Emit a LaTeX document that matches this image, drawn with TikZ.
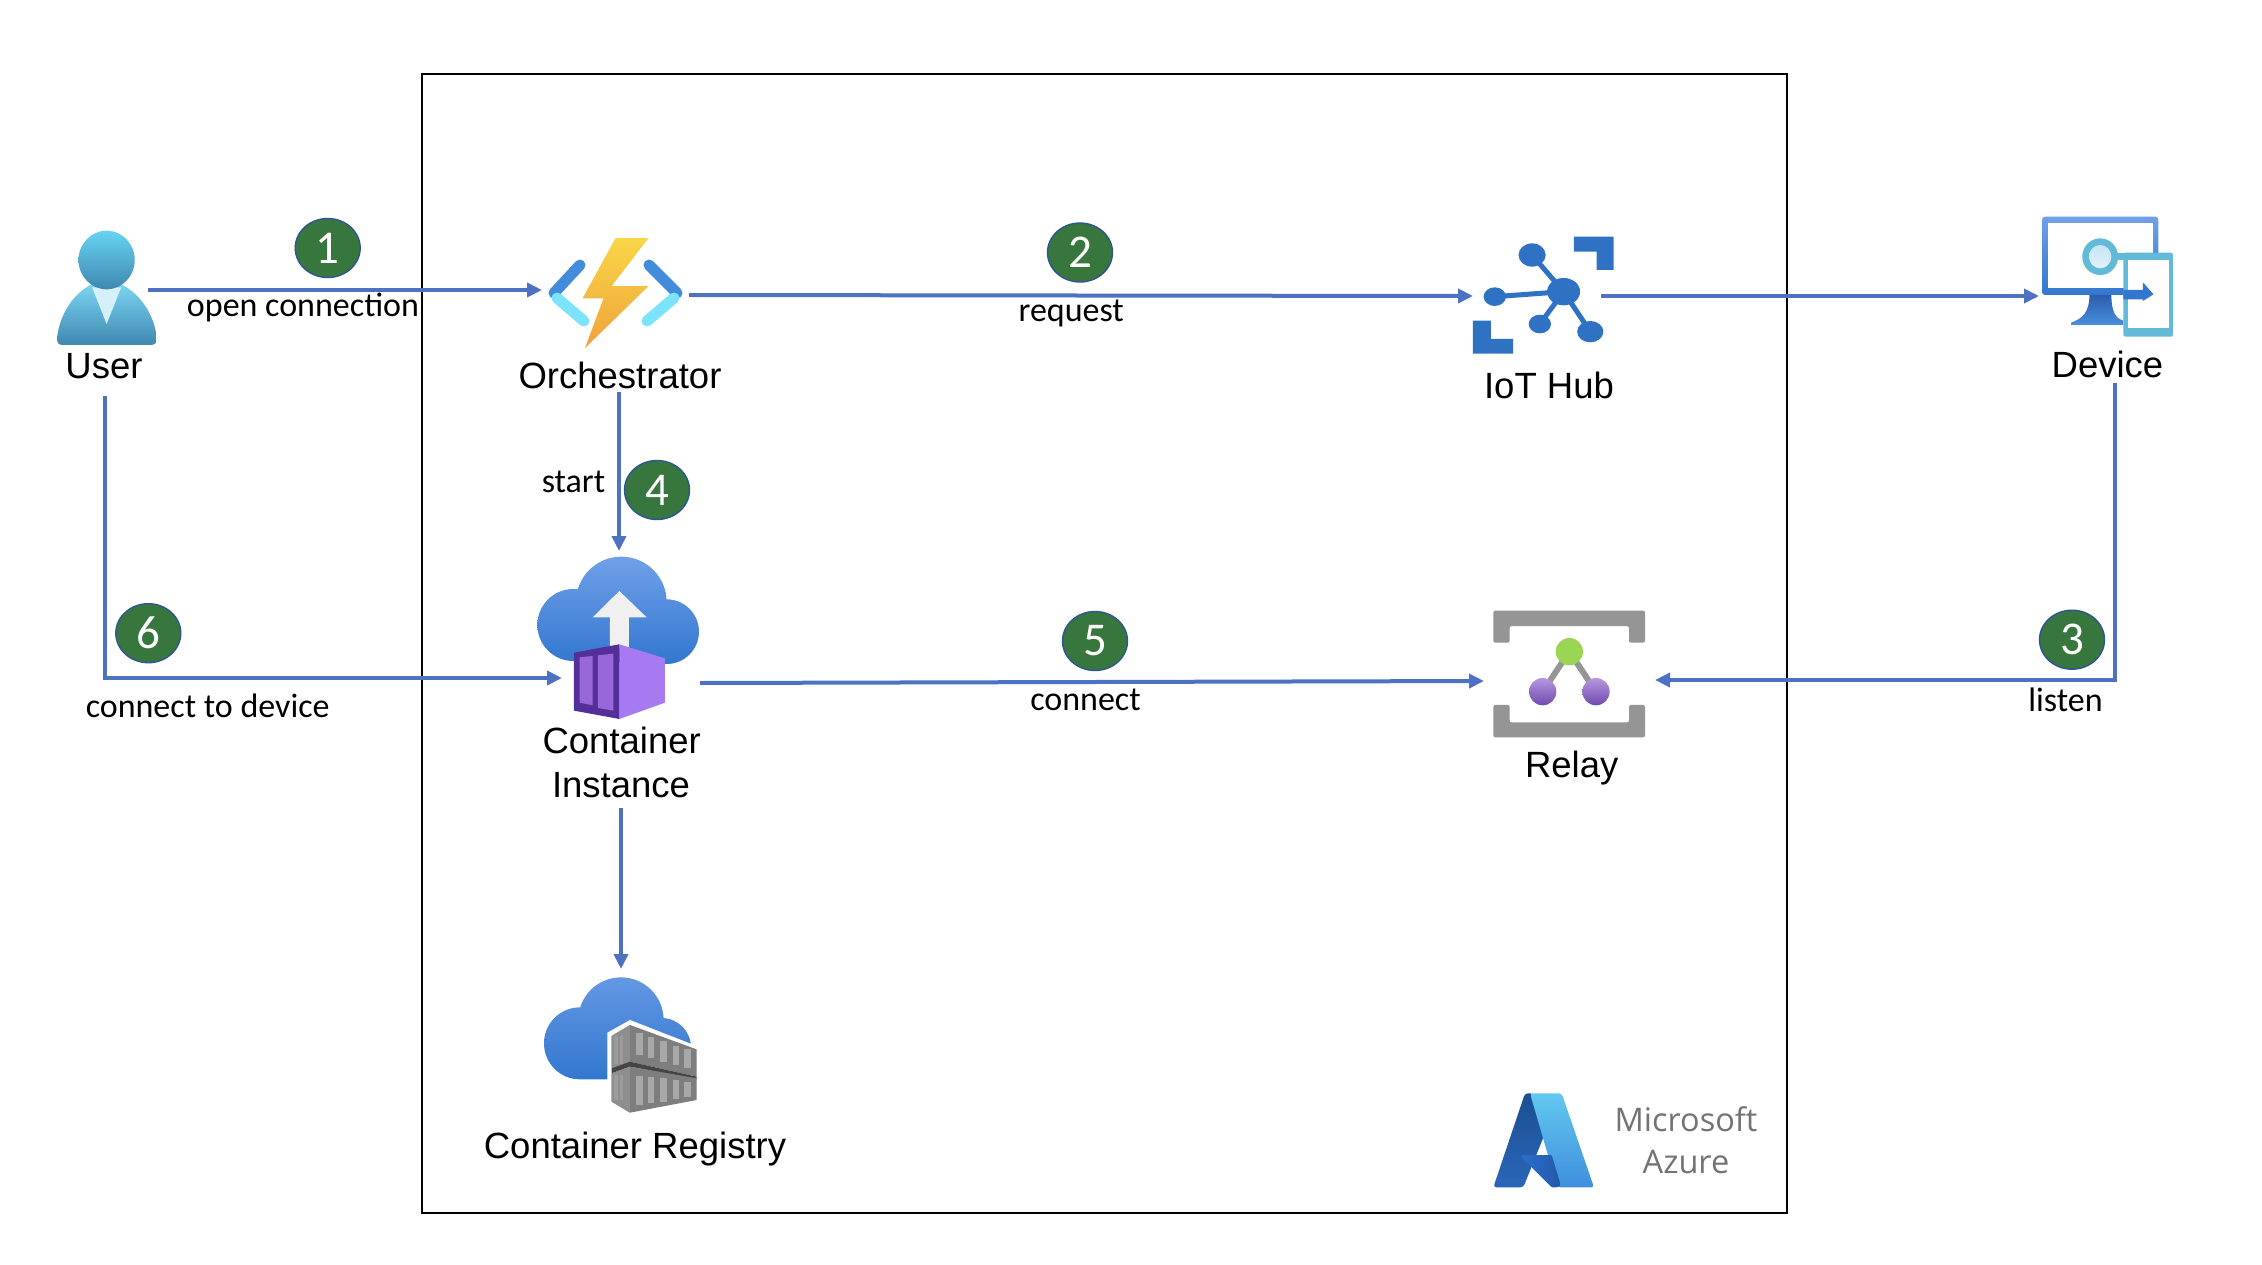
\documentclass[tikz,border=0pt]{standalone}
\usepackage{fontspec}
\setmainfont{Liberation Sans}
\newfontfamily\calfont{Carlito}
\newfontfamily\msfont{Open Sans}
\usetikzlibrary{arrows.meta,shapes.geometric}
\definecolor{flow}{HTML}{4E72C3}
\definecolor{badgefill}{HTML}{37763C}
\definecolor{badgeline}{HTML}{2F5597}
\definecolor{iotblue}{HTML}{2F72C4}
\definecolor{cloudtop}{HTML}{70A0E8}
\definecolor{cloudbot}{HTML}{3277CF}
\definecolor{relaygray}{HTML}{959595}
\definecolor{tabletblue}{HTML}{60BAD8}
\definecolor{bodytop}{HTML}{7BD4F2}
\definecolor{bodybot}{HTML}{3F88B0}
\definecolor{headtop}{HTML}{67D3F2}
\definecolor{collar}{HTML}{D6F0F8}
\definecolor{chevdark}{HTML}{438CDB}
\definecolor{chevlight}{HTML}{7BE3FB}
\definecolor{bolttop}{HTML}{F9D648}
\definecolor{boltbot}{HTML}{F0A23A}
\definecolor{standtop}{HTML}{2A5AA8}
\definecolor{standbot}{HTML}{4A8FE0}
\definecolor{lenstop}{HTML}{C6E4F5}
\definecolor{lensbot}{HTML}{E3F2FA}
\definecolor{arrowgray}{HTML}{F0F0F0}
\definecolor{boxlight}{HTML}{A67AF0}
\definecolor{boxdark}{HTML}{552F99}
\definecolor{boxwin}{HTML}{9868D8}
\definecolor{relaygreen}{HTML}{9AD654}
\definecolor{dottop}{HTML}{B796E0}
\definecolor{dotbot}{HTML}{6E4BAE}
\definecolor{crate}{HTML}{7E7E7E}
\definecolor{crateside}{HTML}{8E8E8E}
\definecolor{cratedark}{HTML}{454545}
\definecolor{cratewin}{HTML}{A8A8A8}
\definecolor{cratewinside}{HTML}{9C9C9C}
\definecolor{azdarktop}{HTML}{1B4F92}
\definecolor{azdarkbot}{HTML}{2A66B8}
\definecolor{azlighttop}{HTML}{63C8F0}
\definecolor{azlightbot}{HTML}{3E8FDC}
\definecolor{azmidl}{HTML}{2A6FD0}
\definecolor{azmidr}{HTML}{2259A6}
\definecolor{msgray}{HTML}{737373}
\tikzset{
  zoomed/.style n args={4}{shift={(#1,#2)},x=#3pt,y=-#4pt},
  flowline/.style={draw=flow,line width=4pt,-{Triangle[length=15pt,width=14pt]}},
  hotspot/.style={draw=none,inner sep=0pt,outer sep=0pt},
  iconlabel/.style={anchor=base,inner sep=0pt,outer sep=0pt,font=\fontsize{36.5}{44}\selectfont,align=center},
  smalllabel/.style={anchor=base,inner sep=0pt,font=\calfont\fontsize{34}{40}\selectfont},
  badge/.style={ellipse,fill=badgefill,draw=badgeline,line width=1.4pt,minimum width=65pt,minimum height=59pt,inner sep=0pt,text=white,font=\calfont\fontsize{47}{47}\selectfont},
}
\begin{document}
\begin{tikzpicture}[x=1pt,y=-1pt]
\useasboundingbox (0,0) rectangle (2262,1264);
\fill[white] (0,0) rectangle (2262,1264);
% Azure frame
\draw[black,line width=2.6pt] (422,74) rectangle (1787,1213);

% ---------- User icon
\begin{scope}[zoomed={0}{180}{.4847}{.3333}]
\shade[top color=bodytop,bottom color=bodybot] (118,470) .. controls (125,390) and (160,330) .. (192,312) -- (248,312) .. controls (285,335) and (318,400) .. (323,470) -- (323,480) .. controls (323,490) and (318,495) .. (310,495) -- (130,495) .. controls (122,495) and (118,490) .. (118,480) -- cycle;
\fill[collar] (190,322) -- (250,322) -- (220,432) -- cycle;
\shade[top color=headtop,bottom color=bodybot] (220,240) ellipse [x radius=58,y radius=88];
\end{scope}

% ---------- Function icon
\begin{scope}
\draw[line width=11pt,color=chevdark,line cap=round] (580,265) -- (554,293);
\draw[line width=11pt,color=chevlight,line cap=round] (557,298) -- (584,321);
\draw[line width=11pt,color=chevdark,line cap=round] (649,265) -- (677,293);
\draw[line width=11pt,color=chevlight,line cap=round] (674,298) -- (647,321);
\shade[top color=bolttop,bottom color=boltbot] (615.6,238) -- (648.6,238) -- (611.7,286) -- (648.6,286) -- (585,348) -- (603.5,298.3) -- (582.6,298.3) -- cycle;
\end{scope}

% ---------- IoT Hub icon
\begin{scope}[zoomed={1440}{200}{.4847}{.3333},iotblue]
\fill (276,110) -- (358,110) -- (358,210) -- (323,210) -- (323,155) -- (276,155) -- cycle;
\fill (68,362) -- (105,362) -- (105,417) -- (151,417) -- (151,461) -- (68,461) -- cycle;
\draw[line width=5pt] (190,165) -- (255,275) (113,290) -- (255,275) (206,372) -- (255,275) (310,395) -- (255,275);
\fill (255,275) ellipse [x radius=34,y radius=41];
\fill (190,165) ellipse [x radius=28,y radius=35];
\fill (113,290) ellipse [x radius=23,y radius=28];
\fill (206,372) ellipse [x radius=23,y radius=28];
\fill (310,395) ellipse [x radius=27,y radius=32];
\end{scope}

% ---------- Device icon
\begin{scope}[zoomed={1440}{200}{.4847}{.3333}]
\shade[top color=standtop,bottom color=standbot] (1340,280) -- (1385,280) .. controls (1385,340) and (1395,355) .. (1410,362) -- (1410,375) -- (1302,375) -- (1302,368) .. controls (1325,355) and (1340,340) .. (1340,280) -- cycle;
\shade[top color=cloudtop,bottom color=cloudbot,rounded corners=3pt] (1242,50) rectangle (1482,285);
\fill[white] (1255,70) rectangle (1470,265);
\fill[tabletblue,rounded corners=2pt] (1410,158) rectangle (1512,410);
\fill[white] (1420,180) rectangle (1505,383);
\fill[cloudbot] (1410,270) -- (1450,270) -- (1450,247) -- (1472,283) -- (1450,303) -- (1450,298) -- (1410,298) -- cycle;
\fill[tabletblue] (1390,160) rectangle (1412,180);
\fill[tabletblue] (1362,170) ellipse [x radius=37,y radius=55];
\shade[top color=lenstop,bottom color=lensbot] (1362,170) ellipse [x radius=23,y radius=35];
\end{scope}

% ---------- Container Instance icon
\begin{scope}[zoomed={480}{520}{.3333}{.3333}]
\shade[top color=cloudtop,bottom color=cloudbot] (424,246) circle [radius=136] (280,315) circle [radius=108] (560,335) circle [radius=97] (560,250) -- (560,432) -- (280,423) -- (280,250) -- cycle;
\fill[arrowgray] (418,213) -- (500,292) -- (447,292) -- (447,385) -- (390,385) -- (390,292) -- (338,292) -- cycle;
\fill[boxlight] (418,373) -- (555,415) -- (555,548) -- (418,597) -- cycle;
\fill[boxdark] (282,398) -- (418,373) -- (418,597) -- (282,572) -- cycle;
\fill[boxwin] (299,412) -- (338,408) -- (338,556) -- (299,548) -- cycle;
\fill[boxwin] (354,406) -- (400,401) -- (400,572) -- (354,564) -- cycle;
\end{scope}

% ---------- Relay icon
\begin{scope}[zoomed={1460}{580}{.3333}{.3333}]
\fill[relaygray,rounded corners=2pt] (100,92) -- (555,92) -- (555,188) -- (507,188) -- (507,138) -- (149,138) -- (149,188) -- (100,188) -- cycle;
\fill[relaygray,rounded corners=2pt] (100,375) -- (149,375) -- (149,427) -- (507,427) -- (507,375) -- (555,375) -- (555,472) -- (100,472) -- cycle;
\draw[relaygray,line width=6pt] (248,335) -- (328,215) -- (408,335);
\fill[relaygreen] (328,215) circle [radius=41];
\shade[top color=dottop,bottom color=dotbot] (248,335) circle [radius=41];
\shade[top color=dottop,bottom color=dotbot] (408,335) circle [radius=41];
\end{scope}

% ---------- Container Registry icon
\begin{scope}[zoomed={460}{960}{.3333}{.3333}]
\shade[top color=cloudtop!80!cloudbot,bottom color=cloudbot] (483,180) circle [radius=128] (360,250) circle [radius=108] (605,262) circle [radius=88] (620,200) -- (620,358) -- (360,358) -- (360,200) -- cycle;
\fill[white] (442,218) -- (510,180) -- (720,262) -- (720,430) -- (505,470) -- (442,430) -- cycle;
\fill[crate] (455,228) -- (510,195) -- (710,268) -- (710,350) -- (510,305) -- (455,325) -- cycle;
\fill[crateside] (455,228) -- (510,195) -- (510,305) -- (455,325) -- cycle;
\fill[cratedark] (455,325) -- (510,305) -- (710,350) -- (710,358) -- (510,320) -- (455,340) -- cycle;
\fill[crate] (455,340) -- (510,320) -- (710,355) -- (710,420) -- (510,458) -- (455,425) -- cycle;
\fill[crateside] (455,340) -- (510,320) -- (510,458) -- (455,425) -- cycle;
\foreach \wx/\wa/\wb/\wc/\wd in {528/218/285/347/435,563/232/295/350/430,600/243/305/355/425,638/258/315/360/418,672/268/325/365/410}{
  \fill[cratewin] (\wx,\wa) rectangle (\wx+20,\wb);
  \fill[cratewin] (\wx,\wc) rectangle (\wx+20,\wd);
}
\foreach \wx in {463,480}{
  \fill[cratewinside] (\wx,228) rectangle (\wx+10,312);
  \fill[cratewinside] (\wx,345) rectangle (\wx+10,420);
}
\end{scope}

% ---------- Azure logo
\begin{scope}[zoomed={1470}{1070}{.3333}{.3333}]
\shade[top color=azdarktop,bottom color=azdarkbot,rounded corners=3pt] (165,70) -- (190,70) -- (225,190) -- (160,352) -- (70,352) -- cycle;
\shade[top color=azlighttop,bottom color=azlightbot,rounded corners=3pt] (180,70) -- (275,70) -- (372,352) -- (262,352) -- cycle;
\shade[left color=azmidl,right color=azmidr,rounded corners=1pt] (155,255) -- (245,255) -- (272,345) -- (262,352) -- (245,352) -- (155,262) -- cycle;
\end{scope}
\node[anchor=base,inner sep=0pt,text=msgray,font=\msfont\fontsize{32.5}{40}\selectfont] (mslabel) at (1686,1131.7) {Microsoft};
\node[anchor=base,inner sep=0pt,text=msgray,font=\msfont\fontsize{32.5}{40}\selectfont] (azlabel) at (1686,1173) {Azure};

% ---------- Invisible nodes that hold each icon's connection points
\node[hotspot,minimum width=86pt,minimum height=212pt] (user) at (105,290) {};
\node[hotspot,minimum width=147pt,minimum height=194pt] (orch) at (615.5,295) {};
\node[hotspot,minimum width=128pt,minimum height=100pt] (iot) at (1537,296) {};
\node[hotspot,minimum width=152pt,minimum height=174pt] (device) at (2115,296) {};
\node[hotspot,minimum width=114pt,minimum height=254pt] (aci) at (619,678) {};
\node[hotspot,minimum width=171pt,minimum height=130pt] (relay) at (1569.5,680) {};
\node[hotspot,minimum width=160pt,minimum height=120pt] (acr) at (621,1029) {};
\coordinate (aciout) at (700,683);
\coordinate (relayin) at (1484,681);

% ---------- Connectors
\draw[flowline] (user.east) -- (orch.west |- user.east);
\draw[flowline] (orch.east) -- (iot.west);
\draw[flowline] (iot.east) -- (device.west);
\draw[flowline] (orch.south -| aci.north) -- (aci.north);
\draw[flowline] (device.south) |- (relay.east);
\draw[flowline] (aciout) -- (relayin);
\draw[flowline] (user.south) |- (aci.west);
\draw[flowline,shorten <=3pt] (aci.south -| acr.north) -- (acr.north);

% ---------- Icon labels
\node[iconlabel] (userlabel) at (104,378.5) {User};
\node[iconlabel] (orchlabel) at (620,388.5) {Orchestrator};
\node[iconlabel] (iotlabel) at (1549,398.5) {IoT Hub};
\node[iconlabel] (devlabel) at (2107.5,377) {Device};
\node[iconlabel] (acilabel1) at (621.7,753.5) {Container};
\node[iconlabel] (acilabel2) at (621,797.5) {Instance};
\node[iconlabel] (relaylabel) at (1571.7,777) {Relay};
\node[iconlabel] (acrlabel) at (635,1158) {Container Registry};

% ---------- Connector labels
\node[smalllabel] (l1) at (303,316) {open connection};
\node[smalllabel] (l2) at (1071.2,321) {request};
\node[smalllabel] (l3) at (2065.5,711.7) {listen};
\node[smalllabel] (l4) at (573.5,492) {start};
\node[smalllabel] (l5) at (1085.5,710.7) {connect};
\node[smalllabel] (l6) at (207.7,717.2) {connect to device};

% ---------- Number badges
\node[badge] (b1) at (327.7,248) {1};
\node[badge] (b2) at (1080,252.5) {2};
\node[badge] (b3) at (2072,639.7) {3};
\node[badge] (b4) at (657,490) {4};
\node[badge] (b5) at (1095,641) {5};
\node[badge] (b6) at (148.3,633.2) {6};
\end{tikzpicture}
\end{document}
